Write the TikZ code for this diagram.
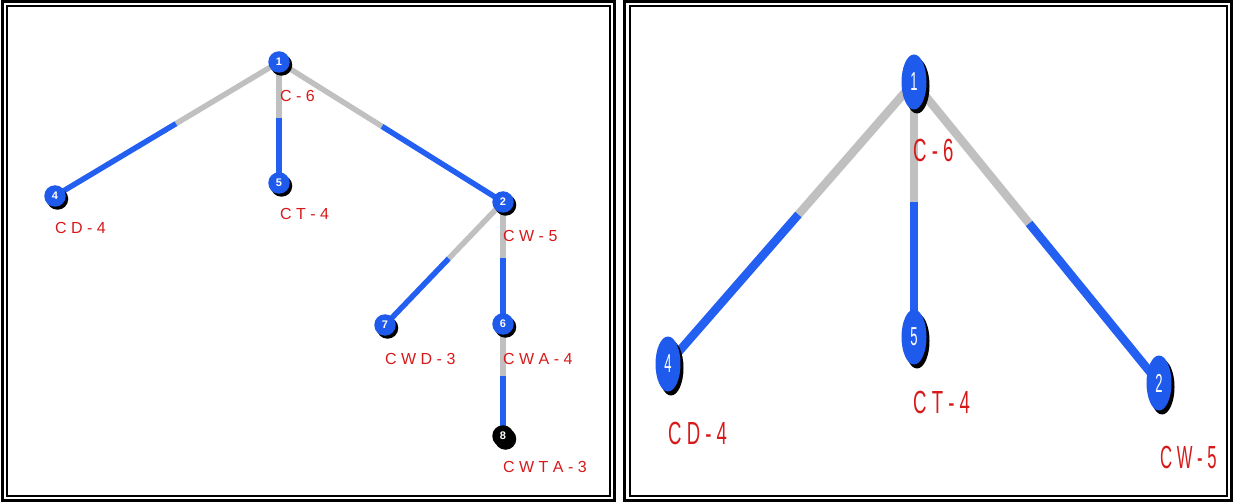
\documentclass[tikz,border=0pt]{standalone}
\usepackage{fontspec}
\usepackage{graphicx}
\setmainfont{Liberation Sans}
\usetikzlibrary{calc,shadows,backgrounds,shapes.geometric}
\definecolor{nblue}{RGB}{30,90,235}
\definecolor{eblue}{RGB}{35,95,240}
\definecolor{egray}{RGB}{192,192,192}
\definecolor{lred}{RGB}{215,25,25}
\begin{document}
\begin{tikzpicture}[x=1pt,y=-1pt,
  frameouter/.style={draw=black, line width=3pt},
  frameinner/.style={draw=black, line width=2pt},
  lnode/.style={circle, fill=nblue, minimum size=21.5pt, inner sep=0pt, text=white,
    font=\bfseries\fontsize{11}{11}\selectfont,
    drop shadow={shadow xshift=2.5pt, shadow yshift=-3pt, opacity=1, fill=black}},
  rnode/.style={ellipse, fill=nblue, minimum width=25pt, minimum height=55pt, inner sep=0pt, text=white,
    font=\fontsize{26}{26}\selectfont,
    drop shadow={shadow xshift=3pt, shadow yshift=-4pt, opacity=1, fill=black}},
  llab/.style={anchor=west, inner sep=0pt, text=lred, font=\fontsize{16}{16}\selectfont},
  rlab/.style={anchor=west, inner sep=0pt, text=lred, font=\fontsize{32}{32}\selectfont},
  lgray/.style={draw=egray, line width=5.5pt},
  lblue/.style={draw=eblue, line width=5.5pt},
  rgray/.style={draw=egray, line width=8.5pt},
  rblue/.style={draw=eblue, line width=8.5pt}]
\useasboundingbox (0,0) rectangle (1233,502);
% frames
\draw[frameouter] (2,1.5) rectangle (614.5,500);
\draw[frameinner] (6.5,6) rectangle (610,496);
\draw[frameouter] (624.5,1.5) rectangle (1231,500);
\draw[frameinner] (629.5,6) rectangle (1226.5,496);
% left tree nodes
\node[lnode] (l1) at (279,62) {1};
\node[lnode] (l5) at (279,183) {5};
\node[lnode] (l4) at (55,196) {4};
\node[lnode] (l2) at (503,202) {2};
\node[lnode] (l7) at (385,325) {7};
\node[lnode] (l6) at (503,324) {6};
\node[lnode, fill=black] (l8) at (503,436) {8};
% left labels
\node[llab] (t1) at (280,96) {C - 6};
\node[llab] (t5) at (280,214) {C T - 4};
\node[llab] (t4) at (55,228) {C D - 4};
\node[llab] (t2) at (503,236) {C W - 5};
\node[llab] (t7) at (385,359) {C W D - 3};
\node[llab] (t6) at (503,359) {C W A - 4};
\node[llab] (t8) at (503,467) {C W T A - 3};
% right tree nodes
\node[rnode] (r1) at (914,82) {\scalebox{0.5}[1]{1}};
\node[rnode] (r4) at (668,364) {\scalebox{0.5}[1]{4}};
\node[rnode] (r5) at (914,337) {\scalebox{0.5}[1]{5}};
\node[rnode] (r2) at (1159,383) {\scalebox{0.5}[1]{2}};
% right labels
\node[rlab] (s1) at (913,150) {\scalebox{0.58}[1]{C - 6}};
\node[rlab] (s5) at (913,402) {\scalebox{0.58}[1]{C T - 4}};
\node[rlab] (s4) at (668,433) {\scalebox{0.58}[1]{C D - 4}};
\node[rlab] (s2) at (1160,457) {\scalebox{0.52}[1]{C W - 5}};
% edges
\begin{pgfonlayer}{background}
\foreach \a/\b in {l1/l4, l1/l5, l1/l2, l2/l7, l2/l6, l6/l8}{
  \draw[lgray] (\a.center) -- ($(\a)!0.46!(\b)$);
  \draw[lblue] ($(\a)!0.46!(\b)$) -- (\b.center);
}
\foreach \a/\b in {r1/r4, r1/r5, r1/r2}{
  \draw[rgray] (\a.center) -- ($(\a)!0.47!(\b)$);
  \draw[rblue] ($(\a)!0.47!(\b)$) -- (\b.center);
}
\end{pgfonlayer}
\end{tikzpicture}
\end{document}
